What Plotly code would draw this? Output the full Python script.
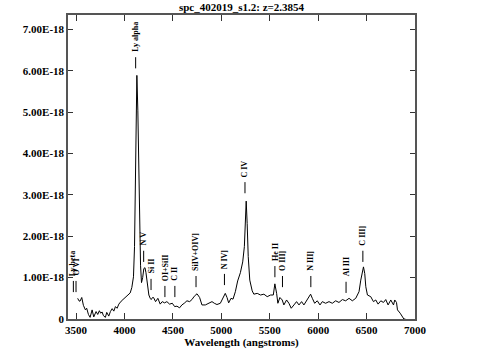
import plotly.graph_objects as go

# ---------------- data ----------------
redshift = 2.3854
title_text = "spc_402019_s1.2: z=2.3854"

wavelength = [3517, 3530, 3541, 3559, 3576, 3597, 3610, 3628, 3645, 3666, 3683, 3707, 3724, 3741,
              3755, 3769, 3783, 3803, 3817, 3838, 3855, 3873, 3890, 3907, 3924, 3942, 3966, 4000,
              4035, 4059, 4076, 4086, 4093, 4104, 4114, 4121, 4128, 4138, 4145, 4155, 4166, 4176,
              4188, 4200, 4212, 4222, 4235, 4252, 4266, 4276, 4290, 4300, 4321, 4345, 4369, 4390,
              4414, 4438, 4466, 4494, 4518, 4542, 4569, 4593, 4617, 4645, 4673, 4697, 4721, 4749,
              4776, 4800, 4835, 4869, 4904, 4928, 4955, 4990, 5017, 5041, 5059, 5076, 5100, 5121,
              5145, 5169, 5197, 5221, 5238, 5248, 5257, 5267, 5278, 5294, 5319, 5336, 5371, 5405,
              5440, 5474, 5509, 5537, 5553, 5571, 5584, 5605, 5629, 5646, 5674, 5698, 5722, 5750,
              5777, 5802, 5829, 5853, 5881, 5905, 5922, 5940, 5964, 5991, 6019, 6043, 6077, 6112,
              6146, 6181, 6215, 6250, 6284, 6319, 6353, 6388, 6422, 6440, 6457, 6468, 6481, 6492,
              6509, 6543, 6571, 6595, 6619, 6647, 6674, 6698, 6722, 6750, 6778, 6791, 6809, 6819,
              6847, 6871, 6885, 6900]

# flux in units of 1e-18
flux_e18 = [0.50, 0.44, 0.43, 0.52, 0.33, 0.22, 0.26, 0.11, 0.04, 0.22, 0.05, 0.18, 0.11, 0.20,
            0.14, 0.17, 0.08, 0.04, 0.16, 0.07, 0.18, 0.25, 0.19, 0.30, 0.26, 0.36, 0.43, 0.50,
            0.56, 0.63, 0.76, 0.88, 1.02, 1.75, 3.84, 5.29, 5.89, 5.05, 3.84, 2.39, 1.30, 0.88,
            1.00, 1.22, 1.24, 1.12, 0.86, 0.58, 0.50, 0.47, 0.52, 0.52, 0.42, 0.50, 0.36, 0.42,
            0.39, 0.42, 0.36, 0.38, 0.30, 0.31, 0.27, 0.34, 0.38, 0.44, 0.42, 0.47, 0.55, 0.61,
            0.52, 0.34, 0.34, 0.38, 0.42, 0.38, 0.35, 0.38, 0.52, 0.62, 0.52, 0.39, 0.50, 0.48,
            0.66, 0.92, 1.12, 1.38, 1.75, 2.39, 2.85, 2.31, 1.51, 0.94, 0.68, 0.60, 0.62, 0.58,
            0.60, 0.54, 0.58, 0.58, 0.85, 0.62, 0.38, 0.52, 0.46, 0.34, 0.46, 0.38, 0.26, 0.34,
            0.42, 0.34, 0.42, 0.34, 0.46, 0.56, 0.60, 0.50, 0.38, 0.44, 0.34, 0.42, 0.38, 0.42,
            0.38, 0.44, 0.40, 0.47, 0.44, 0.50, 0.44, 0.50, 0.66, 0.94, 1.18, 1.26, 1.10, 0.78,
            0.58, 0.54, 0.42, 0.46, 0.36, 0.44, 0.40, 0.47, 0.34, 0.46, 0.34, 0.46, 0.40, 0.22,
            0.14, 0.04, 0.0, 0.0]

line_names = ["Ly beta", "O VI", "Ly alpha", "N V", "Si II", "OI+SiII", "C II", "SiIV+OIV]",
              "N IV]", "C IV", "He II", "O III]", "N III]", "Al III", "C III]"]
line_rest = [1025.7, 1033.8, 1215.67, 1240.1, 1262.6, 1304.9, 1335.3, 1399.8,
             1486.5, 1549.1, 1640.4, 1663.5, 1750.0, 1857.4, 1908.7]
# height (1e-18) of the bottom of each line marker
line_base_e18 = [0.65, 0.65, 6.06, 1.38, 0.70, 0.53, 0.53, 0.77, 0.82, 3.04, 1.01, 0.77, 0.77, 0.63, 1.38]

x_tickvals = [3500, 4000, 4500, 5000, 5500, 6000, 6500, 7000]
y_tick_e18 = [0, 1, 2, 3, 4, 5, 6, 7]
y_ticktext = ["0", "1.00E-18", "2.00E-18", "3.00E-18", "4.00E-18", "5.00E-18", "6.00E-18", "7.00E-18"]

SCALE = 1e-18
flux = [f * SCALE for f in flux_e18]
line_obs = [r * (1 + redshift) for r in line_rest]
marker_len = 0.27 * SCALE

FONT = "Liberation Serif, DejaVu Serif, serif"

fig = go.Figure()
fig.add_trace(go.Scatter(x=wavelength, y=flux, mode="lines",
                         line=dict(color="black", width=1), hoverinfo="skip", showlegend=False))

for name, lam, base in zip(line_names, line_obs, line_base_e18):
    y0 = base * SCALE
    fig.add_shape(type="line", xref="x", yref="y", x0=lam, x1=lam, y0=y0, y1=y0 + marker_len,
                  line=dict(color="black", width=1))
    fig.add_annotation(x=lam, y=y0 + marker_len, xref="x", yref="y", text=name, textangle=-90,
                       showarrow=False, xanchor="center", yanchor="bottom", yshift=3,
                       font=dict(family=FONT, size=8, color="black", weight="bold"))

axis_common = dict(showline=True, linecolor="#555", linewidth=1.5, mirror="ticks",
                   ticks="inside", tickcolor="#333", tickwidth=1, showgrid=False, zeroline=False,
                   tickfont=dict(family=FONT, size=11, color="black", weight="bold"))

fig.update_xaxes(range=[3417, 7000], tickvals=x_tickvals, ticklen=6,
                 title=dict(text="Wavelength (angstroms)", standoff=2,
                            font=dict(family=FONT, size=11, color="black", weight="bold")),
                 **axis_common)
fig.update_yaxes(range=[0, 7.35 * SCALE], tickvals=[v * SCALE for v in y_tick_e18],
                 ticktext=y_ticktext, ticklen=5, **axis_common)

fig.update_layout(
    width=483, height=358,
    margin=dict(l=68, r=68, t=15, b=39),
    paper_bgcolor="white", plot_bgcolor="white",
    title=dict(text=title_text, x=0.5, xref="paper", y=1 - 7 / 358, yref="container",
               yanchor="middle", xanchor="center",
               font=dict(family=FONT, size=11, color="black", weight="bold")),
    showlegend=False,
)

fig.write_html("out.html", config={"displayModeBar": False},
               post_script="document.body.style.margin='0';document.body.style.padding='0';")
